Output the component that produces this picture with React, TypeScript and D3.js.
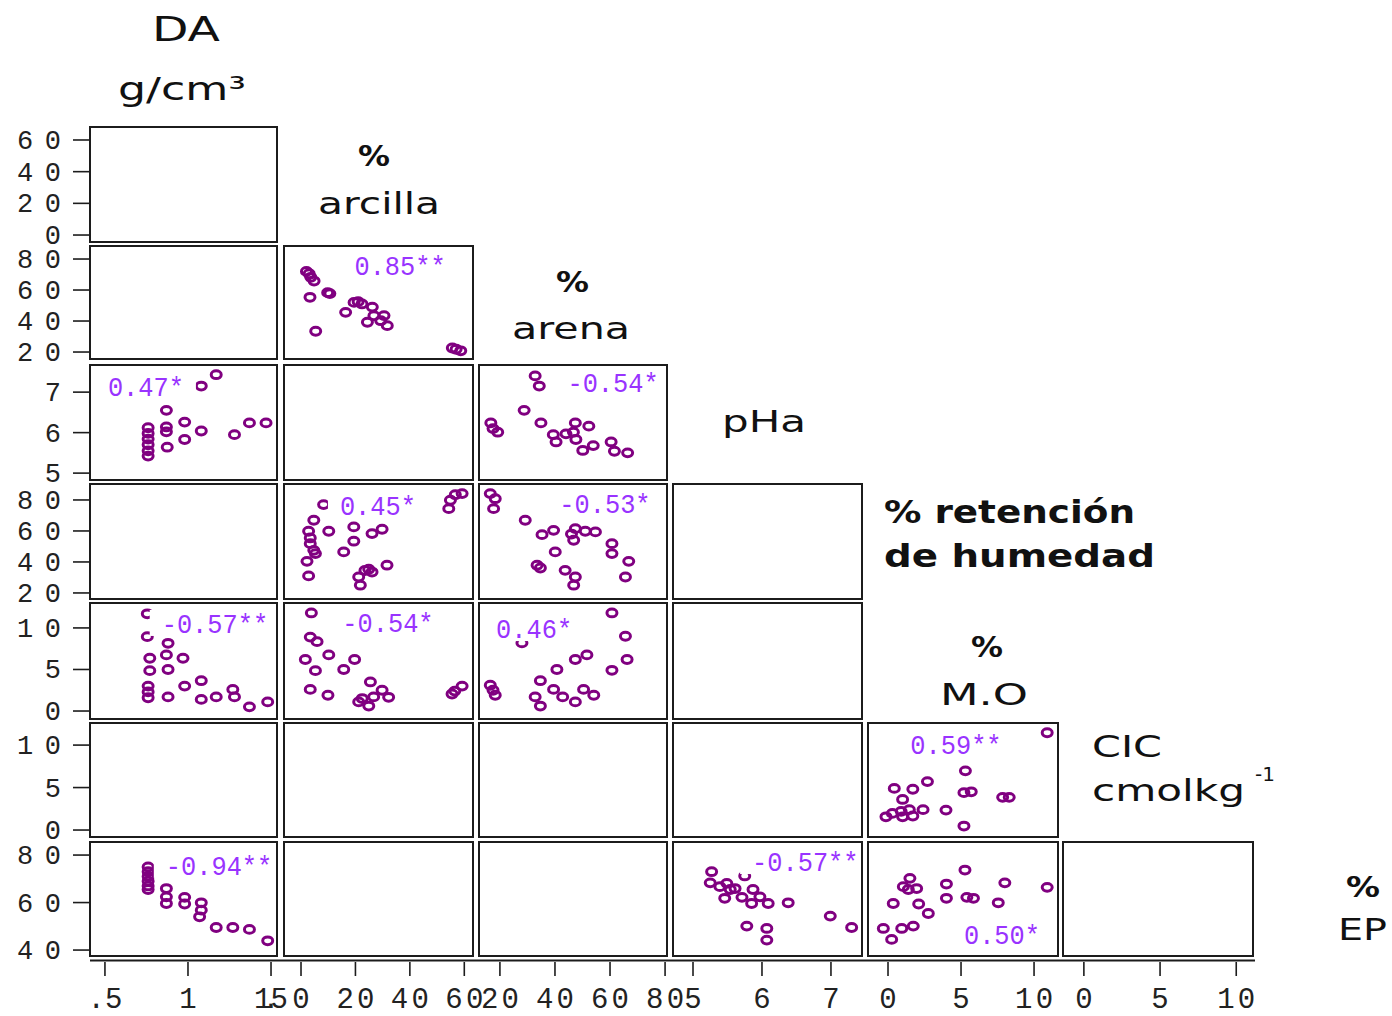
import React from "react";
import * as d3 from "d3";

type Pt = [number, number];

// Axis domains: columns carry the x variable, rows the y variable
const colDomains: [number, number][] = [
  [0.41, 1.536], // DA
  [-6.25, 63.2], // % arcilla
  [12.4, 80.7], // % arena
  [4.71, 7.45], // pHa
  [-1.37, 11.64], // % M.O
  [-1.37, 11.1], // CIC
];
const rowDomains: [number, number][] = [
  [-4.4, 68.2],
  [15.5, 88.4],
  [4.83, 7.67],
  [16.1, 90.3],
  [-0.96, 13.0],
  [-0.82, 12.6],
  [37.5, 85.5],
];

const colTicks: number[][] = [
  [0.5, 1, 1.5],
  [0, 20, 40, 60],
  [20, 40, 60, 80],
  [5, 6, 7],
  [0, 5, 10],
  [0, 5, 10],
];
const colTickLabels: string[][] = [
  [".5", "1", "1.5"],
  ["0", "20", "40", "60"],
  ["20", "40", "60", "80"],
  ["5", "6", "7"],
  ["0", "5", "10"],
  ["0", "5", "10"],
];
const rowTicks: number[][] = [
  [0, 20, 40, 60],
  [20, 40, 60, 80],
  [5, 6, 7],
  [20, 40, 60, 80],
  [0, 5, 10],
  [0, 5, 10],
  [40, 60, 80],
];
const panelsPerRow = [1, 2, 3, 4, 4, 5, 6];

// Scatter data per panel: [x, y]
const arcillaArena: Pt[] = [
  [2.0, 72], [3.0, 70.5], [3.6, 68.2], [4.8, 65.8], [3.3, 55.3], [9.8, 58.3],
  [10.6, 57.7], [16.4, 45.6], [19.5, 52], [21, 52.5], [22.4, 51], [26.2, 49],
  [26.8, 43.4], [24.4, 39.2], [29.3, 40.2], [31.7, 37], [30.5, 43.5], [5.4, 33.4],
  [55.6, 22.6], [58.7, 20.8], [57, 21.8],
];
const daPh: Pt[] = [
  [1.17, 7.43], [1.08, 7.15], [0.87, 6.55], [0.76, 6.12], [0.76, 5.98], [0.76, 5.84],
  [0.76, 5.7], [0.76, 5.55], [0.76, 5.42], [0.87, 6.14], [0.87, 6.02], [0.875, 5.64],
  [0.98, 6.26], [0.98, 5.83], [1.08, 6.04], [1.28, 5.95], [1.37, 6.24], [1.47, 6.24],
];
const arenaPh: Pt[] = [
  [32.8, 7.4], [34.3, 7.15], [28.8, 6.55], [16.7, 6.24], [17.5, 6.1], [19.2, 6.01],
  [34.9, 6.24], [39.4, 5.95], [40.4, 5.77], [44.0, 5.97], [47.4, 6.24], [52.3, 6.16],
  [46.7, 6.01], [47.6, 5.83], [50.1, 5.56], [53.9, 5.68], [60.4, 5.77], [61.6, 5.54],
  [66.4, 5.5],
];
const arcillaRetencion: Pt[] = [
  [8.3, 77], [56.7, 83.4], [54.9, 79.8], [54.3, 74.4], [59.2, 84.1], [4.7, 66.9],
  [2.8, 59.8], [3.4, 55.5], [3.4, 51.8], [4.7, 47.5], [5.3, 45.4], [2.2, 40.4],
  [2.8, 31], [10.2, 59.8], [19.4, 62.6], [19.4, 53.4], [26.1, 58.3], [29.8, 61.1],
  [15.7, 46.5], [24.9, 35.3], [21.2, 30.3], [21.8, 25], [31.6, 37.9], [26.1, 33.5],
  [23.5, 34.5],
];
const arenaRetencion: Pt[] = [
  [16.5, 84.1], [18.3, 80.8], [17.7, 74.4], [29.2, 66.9], [35.3, 57.6], [39.5, 60.4],
  [47.4, 61.5], [46.8, 54], [51, 59.8], [54.7, 59.4], [40.1, 46.5], [33.5, 37.9],
  [34.7, 36.1], [43.7, 34.6], [47.4, 30.3], [46.8, 25], [60.7, 51.8], [60.7, 45.4],
  [66.8, 40.4], [65.6, 30.3], [46, 58],
];
const daMo: Pt[] = [
  [0.755, 11.7], [0.755, 8.95], [0.88, 8.15], [0.87, 6.75], [0.97, 6.35], [0.77, 6.35],
  [0.77, 4.86], [0.88, 5.0], [0.76, 3.0], [0.76, 2.3], [0.76, 1.6], [0.88, 1.7],
  [0.98, 3.0], [1.08, 3.65], [1.08, 1.4], [1.17, 1.7], [1.27, 2.6], [1.28, 1.7],
  [1.37, 0.5], [1.48, 1.1],
];
const arcillaMo: Pt[] = [
  [3.8, 11.8], [3.4, 8.9], [5.9, 8.35], [1.6, 6.2], [5.3, 4.86], [10.2, 6.75],
  [15.7, 5.0], [19.7, 6.2], [3.4, 2.6], [9.9, 1.9], [25.5, 3.5], [29.8, 2.5],
  [32.2, 1.65], [21.2, 1.1], [24.9, 0.6], [26.7, 1.7], [22.5, 1.5], [55.5, 2.05],
  [56.5, 2.4], [59.2, 3.0],
];
const arenaMo: Pt[] = [
  [60.7, 11.8], [65.6, 9.0], [66.2, 6.2], [60.7, 4.9], [28, 8.2], [47.4, 6.2],
  [51.6, 6.75], [40.7, 5.0], [16.5, 3.1], [18.3, 1.9], [17.5, 2.5], [34.7, 3.65],
  [39.5, 2.6], [32.8, 1.7], [34.7, 0.6], [42.8, 1.7], [47.4, 1.1], [50.4, 2.6],
  [54.1, 1.9],
];
const moCic: Pt[] = [
  [10.9, 11.45], [5.3, 6.97], [5.7, 4.5], [5.2, 4.4], [7.85, 3.85], [8.3, 3.85],
  [5.2, 0.47], [3.97, 2.35], [0.43, 4.9], [1.7, 4.8], [2.7, 5.7], [1.0, 3.6],
  [-0.14, 1.56], [0.3, 1.96], [1.0, 1.56], [1.7, 1.65], [2.4, 2.4], [1.46, 2.4],
  [0.9, 2.2],
];
const daEp: Pt[] = [
  [0.76, 75], [0.76, 73], [0.76, 71], [0.76, 69], [0.76, 67], [0.76, 65.5],
  [0.87, 65.9], [0.87, 62.4], [0.87, 59.6], [0.98, 62.2], [0.98, 59.4], [1.08, 59.9],
  [1.08, 56.8], [1.07, 54], [1.17, 49.5], [1.27, 49.5], [1.37, 48.7], [1.48, 43.9],
];
const phEp: Pt[] = [
  [5.27, 73], [5.25, 68.3], [5.39, 66.7], [5.49, 68.1], [5.54, 65.5], [5.61, 65.9],
  [5.46, 61.8], [5.71, 62.2], [5.75, 71.2], [5.87, 65.5], [5.85, 59.6], [5.97, 62.4],
  [6.09, 59.6], [6.38, 59.9], [5.78, 50.1], [6.07, 49.1], [6.07, 44.2], [6.99, 54.3],
  [7.3, 49.5],
];
const moEp: Pt[] = [
  [5.27, 73.7], [8.0, 68.3], [10.9, 66.4], [1.5, 70.2], [1.05, 66.7], [1.39, 65.5],
  [1.96, 65.9], [4.0, 67.8], [4.0, 61.8], [5.4, 62.2], [5.85, 61.8], [7.55, 59.9],
  [0.36, 59.6], [2.1, 59.4], [2.76, 55.4], [-0.32, 49.1], [0.94, 49.1], [1.73, 50.1],
  [0.25, 44.5],
];

// Correlation coefficients shown in each populated panel
const corrLabels = ["0.85**", "0.47*", "-0.54*", "0.45*", "-0.53*", "-0.57**", "-0.54*", "0.46*", "0.59**", "-0.94**", "-0.57**", "0.50*"];

const scatterPanels = [
  { row: 1, col: 1, pts: arcillaArena, r: corrLabels[0], fx: 0.614, fy: 0.168 },
  { row: 2, col: 0, pts: daPh, r: corrLabels[1], fx: 0.299, fy: 0.183 },
  { row: 2, col: 2, pts: arenaPh, r: corrLabels[2], fx: 0.713, fy: 0.148 },
  { row: 3, col: 1, pts: arcillaRetencion, r: corrLabels[3], fx: 0.497, fy: 0.183 },
  { row: 3, col: 2, pts: arenaRetencion, r: corrLabels[4], fx: 0.67, fy: 0.165 },
  { row: 4, col: 0, pts: daMo, r: corrLabels[5], fx: 0.668, fy: 0.172 },
  { row: 4, col: 1, pts: arcillaMo, r: corrLabels[6], fx: 0.55, fy: 0.164 },
  { row: 4, col: 2, pts: arenaMo, r: corrLabels[7], fx: 0.293, fy: 0.216 },
  { row: 5, col: 4, pts: moCic, r: corrLabels[8], fx: 0.463, fy: 0.184 },
  { row: 6, col: 0, pts: daEp, r: corrLabels[9], fx: 0.69, fy: 0.2 },
  { row: 6, col: 3, pts: phEp, r: corrLabels[10], fx: 0.7, fy: 0.167 },
  { row: 6, col: 4, pts: moEp, r: corrLabels[11], fx: 0.705, fy: 0.807 },
];

// Panel pixel bounds
const colX: [number, number][] = [
  [90, 277], [284, 473], [479, 667], [673, 862], [868, 1058], [1063, 1253],
];
const rowY: [number, number][] = [
  [127, 242], [246, 359], [365, 480], [484, 599], [603, 719], [723, 837], [842, 956],
];

const xScales = colDomains.map((d, i) => d3.scaleLinear().domain(d).range(colX[i]));
const yScales = rowDomains.map((d, i) => d3.scaleLinear().domain(d).range([rowY[i][1], rowY[i][0]]));

const NUM_FONT = "'Liberation Mono', 'DejaVu Sans Mono', monospace";
const NAME_FONT = "'DejaVu Sans', Verdana, sans-serif";
const POINT = "#800080";
const CORR = "#9933ff";
const INK = "#1c1c1c";

type VarLabel = { text: string; x: number; y: number; w: number; size: number; bold?: boolean };
const varLabels: VarLabel[] = [
  { text: "DA", x: 152, y: 41, w: 68, size: 33 },
  { text: "g/cm³", x: 118, y: 100, w: 128, size: 32 },
  { text: "%", x: 358, y: 166, w: 32, size: 28, bold: true },
  { text: "arcilla", x: 318, y: 214, w: 122, size: 31 },
  { text: "%", x: 556, y: 292, w: 33, size: 28, bold: true },
  { text: "arena", x: 512, y: 339, w: 118, size: 31 },
  { text: "pHa", x: 722, y: 432, w: 84, size: 31 },
  { text: "% retención", x: 884, y: 523, w: 251, size: 32, bold: true },
  { text: "de humedad", x: 884, y: 567, w: 271, size: 32, bold: true },
  { text: "%", x: 971, y: 657, w: 32, size: 28, bold: true },
  { text: "M.O", x: 940, y: 705, w: 88, size: 31 },
  { text: "CIC", x: 1092, y: 757, w: 70, size: 31 },
  { text: "cmolkg", x: 1092, y: 801, w: 153, size: 31 },
  { text: "%", x: 1346, y: 897, w: 34, size: 28, bold: true },
  { text: "EP", x: 1338, y: 940, w: 49, size: 31 },
];

export default function App() {
  const panels: { row: number; col: number }[] = [];
  panelsPerRow.forEach((n, row) => {
    for (let col = 0; col < n; col++) panels.push({ row, col });
  });

  return (
    <svg
      width={1392}
      height={1016}
      style={{ position: "absolute", left: 0, top: 0, background: "#fff" }}
    >
      <rect x={0} y={0} width={1392} height={1016} fill="#fff" />

      {/* scatter points and correlation labels */}
      {scatterPanels.map((p, i) => {
        const xs = xScales[p.col];
        const ys = yScales[p.row];
        const [x0, x1] = colX[p.col];
        const [y0, y1] = rowY[p.row];
        const cx = x0 + p.fx * (x1 - x0);
        const cy = y0 + p.fy * (y1 - y0);
        const tw = p.r.length * 15.2;
        return (
          <g key={`s${i}`}>
            {p.pts.map((d, j) => (
              <ellipse
                key={j}
                cx={xs(d[0])}
                cy={ys(d[1])}
                rx={5}
                ry={3.9}
                fill="none"
                stroke={POINT}
                strokeWidth={3}
              />
            ))}
            <rect x={cx - tw / 2 - 12} y={cy - 13} width={tw + 24} height={26} fill="#fff" />
            <text
              x={cx}
              y={cy + 10}
              textAnchor="middle"
              fontFamily={NUM_FONT}
              fontSize={28}
              fill={CORR}
              textLength={tw}
              lengthAdjust="spacingAndGlyphs"
            >
              {p.r}
            </text>
          </g>
        );
      })}

      {/* panel frames, drawn over the label backgrounds */}
      {panels.map(({ row, col }) => (
        <rect
          key={`f${row}-${col}`}
          x={colX[col][0]}
          y={rowY[row][0]}
          width={colX[col][1] - colX[col][0]}
          height={rowY[row][1] - rowY[row][0]}
          fill="none"
          stroke={INK}
          strokeWidth={2}
        />
      ))}

      {/* left tick marks and labels */}
      {rowTicks.map((ticks, row) =>
        ticks.map((t) => {
          const y = yScales[row](t);
          const s = String(t);
          return (
            <g key={`yt${row}-${t}`}>
              <line x1={73} x2={90} y1={y} y2={y} stroke={INK} strokeWidth={1.6} />
              <text
                x={61}
                y={y + 9}
                textAnchor="end"
                fontFamily={NUM_FONT}
                fontSize={27}
                fill="#222"
                textLength={s.length > 1 ? 44 : undefined}
                lengthAdjust="spacing"
              >
                {s}
              </text>
            </g>
          );
        })
      )}

      {/* bottom axis */}
      <line x1={90} x2={1255} y1={960.5} y2={960.5} stroke={INK} strokeWidth={2.2} />
      {colTicks.map((ticks, col) =>
        ticks.map((t, k) => {
          const x = xScales[col](t);
          const s = colTickLabels[col][k];
          const w = s === "1.5" ? 34 : s.length === 2 && s !== ".5" ? 38 : undefined;
          return (
            <g key={`xt${col}-${k}`}>
              <line x1={x} x2={x} y1={962} y2={976} stroke={INK} strokeWidth={1.6} />
              <text
                x={x}
                y={1008}
                textAnchor="middle"
                fontFamily={NUM_FONT}
                fontSize={29}
                fill="#222"
                textLength={w}
                lengthAdjust="spacing"
              >
                {s}
              </text>
            </g>
          );
        })
      )}

      {/* variable names along the diagonal */}
      {varLabels.map((l, i) => (
        <text
          key={`v${i}`}
          x={l.x}
          y={l.y}
          fontFamily={NAME_FONT}
          fontSize={l.size}
          fontWeight={l.bold ? "bold" : "normal"}
          fill="#111"
          textLength={l.w}
          lengthAdjust="spacingAndGlyphs"
        >
          {l.text}
        </text>
      ))}
      <text x={1255} y={781} fontFamily={NAME_FONT} fontSize={20} fill="#111">
        -1
      </text>
    </svg>
  );
}
